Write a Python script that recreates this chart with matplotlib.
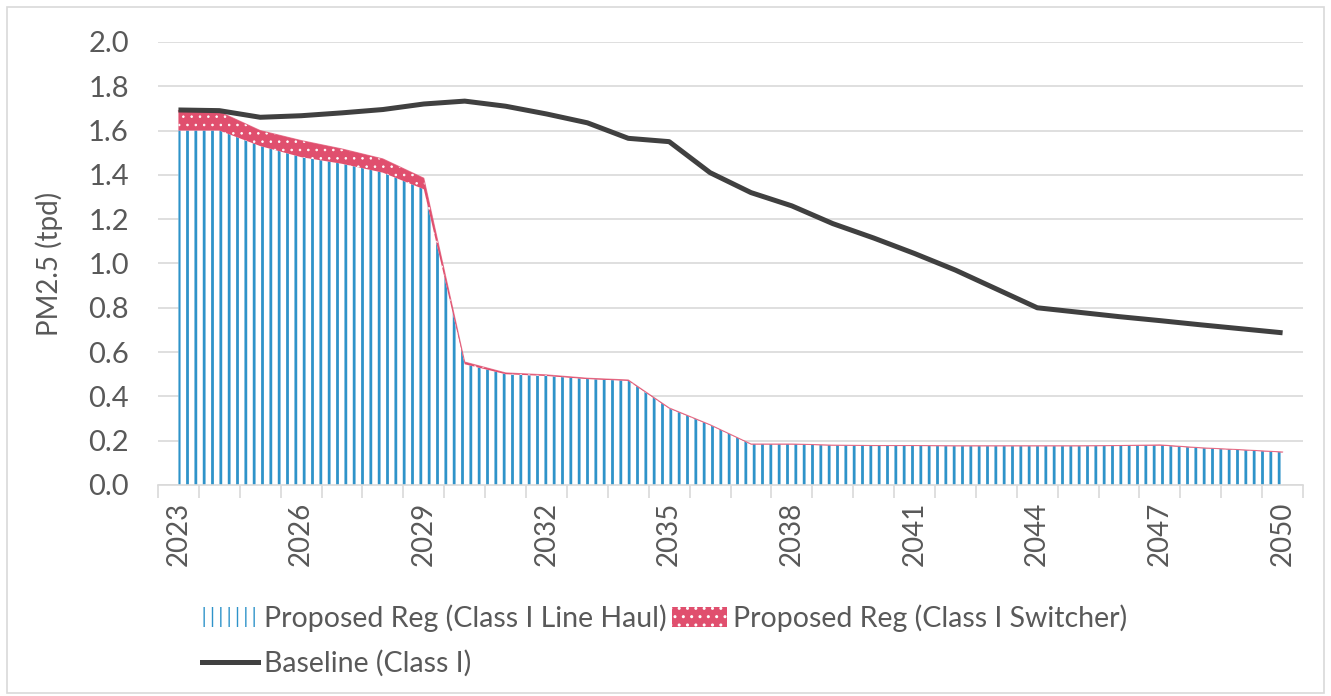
import matplotlib.pyplot as plt
from matplotlib.patches import Patch, Rectangle
from matplotlib.lines import Line2D
from matplotlib.ticker import FixedLocator

plt.rcParams['font.family'] = ['Lato', 'DejaVu Sans']

# data (tons per day)
years = list(range(2023, 2051))
line_haul = [1.60, 1.60, 1.53, 1.48, 1.45, 1.41, 1.335, 0.545, 0.50, 0.492, 0.478, 0.470,
             0.345, 0.27, 0.183, 0.183, 0.178, 0.176, 0.176, 0.175, 0.175, 0.175, 0.175,
             0.176, 0.178, 0.166, 0.157, 0.147]
switcher = [0.09, 0.085, 0.07, 0.075, 0.067, 0.062, 0.05, 0.01, 0.006, 0.005, 0.004, 0.004,
            0.003, 0.002, 0.002, 0.002, 0.002, 0.002, 0.002, 0.002, 0.002, 0.002, 0.002,
            0.002, 0.003, 0.002, 0.002, 0.002]
baseline = [1.693, 1.69, 1.66, 1.667, 1.68, 1.695, 1.72, 1.733, 1.71, 1.675, 1.635, 1.565,
            1.55, 1.41, 1.32, 1.26, 1.18, 1.115, 1.045, 0.97, 0.885, 0.80, 0.78, 0.76,
            0.742, 0.723, 0.705, 0.687]

blue = '#2E93C9'
pink = '#E04F6E'
dark = '#404040'
text_c = '#595959'

fig = plt.figure(figsize=(13.31, 6.96), dpi=100)
ax = fig.add_axes([0.1187, 0.3032, 0.8603, 0.6365])

x = list(range(len(years)))
top = [a + b for a, b in zip(line_haul, switcher)]

with plt.rc_context({'hatch.linewidth': 2.0}):
    ax.fill_between(x, 0, line_haul, facecolor='white', edgecolor=blue, hatch='||', lw=0, zorder=2)
    h_blue = Patch(facecolor='white', edgecolor=blue, hatch='||', lw=0)
with plt.rc_context({'hatch.linewidth': 0.6}):
    ax.fill_between(x, line_haul, top, facecolor=pink, edgecolor='white', hatch='..', lw=0, zorder=2)
    h_pink = Patch(facecolor=pink, edgecolor='white', hatch='..', lw=0)
ax.plot(x, top, color=pink, lw=0.8, alpha=0.7, zorder=3)
ax.plot(x, baseline, color=dark, lw=3.6, zorder=4, solid_capstyle='butt')

ax.set_ylim(0, 2.0)
ax.set_xlim(-0.5, len(years) - 0.5)
ax.set_yticks([i * 0.2 for i in range(11)])
ax.set_yticklabels(['%.1f' % (i * 0.2) for i in range(11)])
ax.grid(axis='y', color='#D9D9D9', lw=1.2, zorder=0)
ax.set_axisbelow(True)

ax.set_xticks(x[::3])
ax.set_xticklabels([str(y) for y in years[::3]], rotation=90)
ax.xaxis.set_minor_locator(FixedLocator([i - 0.5 for i in range(len(years) + 1)]))
ax.tick_params(axis='x', which='major', length=0, pad=12, labelsize=20, labelcolor=text_c)
ax.tick_params(axis='x', which='minor', length=9, width=1.2, color='#D9D9D9')
ax.tick_params(axis='y', length=0, pad=21, labelsize=21, labelcolor=text_c)

for s in ['top', 'right', 'left']:
    ax.spines[s].set_visible(False)
ax.spines['bottom'].set_color('#D9D9D9')
ax.spines['bottom'].set_linewidth(1.2)

ax.set_ylabel('PM2.5 (tpd)', fontsize=20, color=text_c, labelpad=18)

handles = [h_blue, Line2D([], [], color=dark, lw=3.6), h_pink]
labels = ['Proposed Reg (Class I Line Haul)', 'Baseline (Class I)', 'Proposed Reg (Class I Switcher)']
fig.legend(handles, labels, ncol=2, loc='upper left', bbox_to_anchor=(0.152, 0.132),
           frameon=False, fontsize=20.5, labelcolor=text_c, handlelength=1.95,
           handletextpad=0.2, columnspacing=0.2, labelspacing=0.65, borderaxespad=0,
           borderpad=0)

fig.patches.append(Rectangle((0.005, 0.005), 0.99, 0.985, transform=fig.transFigure,
                             fill=False, edgecolor='#D9D9D9', lw=1.2))

fig.savefig('out.png', dpi=100)
